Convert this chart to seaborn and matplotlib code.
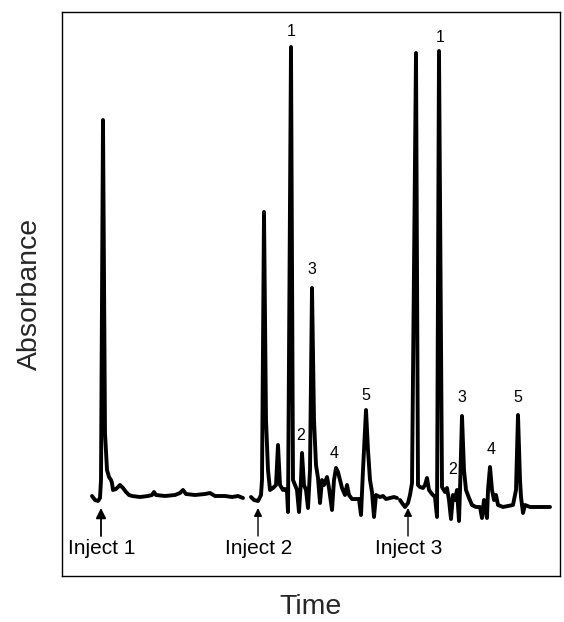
import matplotlib
matplotlib.use("Agg")
import matplotlib.pyplot as plt
import seaborn as sns
import pandas as pd

# ---- data (arbitrary time / absorbance units) ----
seg1_time = [30, 33, 36, 38, 39, 41, 43, 45, 47, 49, 50, 51, 54, 56, 58, 61, 64, 67, 70,
             78, 86, 90, 92, 94, 103, 113, 118, 121, 124, 133, 143, 148, 153, 163, 170, 176, 181]
seg1_abs = [80, 76, 75, 78, 96, 456, 143, 106, 99, 96, 93, 86, 87, 89, 91, 88, 84, 81, 80,
            79, 80, 81, 84, 81, 80, 81, 83, 86, 82, 81, 82, 83, 80, 80, 79, 80, 78]

seg2_time = [189, 192, 196, 199, 200, 202, 204, 206, 208, 211, 214, 216, 218, 221, 223, 225,
             226, 229, 231, 233, 235, 237, 239, 240, 242, 244, 246, 248, 250, 252, 254, 256,
             258, 260, 262, 265, 267, 270, 272, 274, 276, 278, 280, 283, 285, 287, 290, 294,
             297, 299, 301, 304, 306, 308, 310, 312, 314, 318, 321, 324, 328, 332, 335]
seg2_abs = [79, 76, 75, 81, 96, 364, 156, 106, 86, 88, 91, 131, 91, 86, 87, 84,
            64, 529, 96, 91, 86, 64, 96, 123, 91, 86, 68, 106, 288, 156, 111, 98,
            73, 96, 91, 99, 88, 66, 96, 108, 104, 96, 88, 81, 91, 81, 77, 77,
            77, 61, 106, 166, 126, 96, 84, 59, 81, 79, 80, 77, 78, 79, 78]

seg3_time = [338, 340, 343, 346, 348, 350, 354, 356, 358, 361, 363, 365, 367, 370, 373, 375,
             377, 380, 383, 385, 387, 389, 391, 393, 395, 397, 398, 400, 402, 404, 407, 410,
             414, 418, 420, 422, 425, 426, 428, 430, 432, 434, 436, 441, 446, 451, 454, 456,
             458, 459, 461, 463, 468, 478, 488]
seg3_abs = [76, 73, 69, 73, 81, 93, 523, 91, 89, 88, 91, 98, 86, 82, 79, 59,
            525, 89, 84, 88, 76, 57, 81, 76, 86, 55, 86, 160, 106, 86, 78, 71,
            69, 69, 58, 76, 58, 86, 109, 86, 76, 81, 71, 69, 70, 71, 86, 161,
            96, 79, 63, 71, 69, 69, 69]

peak_labels = ["1", "2", "3", "4", "5", "1", "2", "3", "4", "5"]
peak_label_time = [229, 239, 250, 272, 304, 378, 391, 400, 429, 456]
peak_label_abs = [544, 141, 307, 123, 181, 538, 107, 178, 127, 179]

inject_labels = ["Inject 1", "Inject 2", "Inject 3"]
inject_time = [39, 196, 346]

# ---- assemble ----
frames = []
for name, t, a in [("run1", seg1_time, seg1_abs), ("run2", seg2_time, seg2_abs),
                   ("run3", seg3_time, seg3_abs)]:
    frames.append(pd.DataFrame({"time": t, "absorbance": a, "segment": name}))
df = pd.concat(frames, ignore_index=True)

sns.set_style("white")
plt.rcParams["font.family"] = ["Liberation Sans", "DejaVu Sans"]

fig = plt.figure(figsize=(5.64, 6.22), dpi=100)
ax = fig.add_axes([62 / 564, 1 - 576 / 622, 498 / 564, 564 / 622])

sns.lineplot(data=df, x="time", y="absorbance", units="segment", estimator=None,
             sort=False, color="black", lw=2.8, ax=ax, legend=False)

ax.set_xlim(0, 498)
ax.set_ylim(0, 564)
ax.set_xticks([])
ax.set_yticks([])
for sp in ax.spines.values():
    sp.set_visible(True)
    sp.set_color("black")
    sp.set_linewidth(1.0)

for lab, t, a in zip(peak_labels, peak_label_time, peak_label_abs):
    ax.text(t, a, lab, ha="center", va="center", fontsize=11.5, color="black")

for i, (lab, t) in enumerate(zip(inject_labels, inject_time)):
    ax.annotate("", xy=(t, 68), xytext=(t, 40),
                arrowprops=dict(arrowstyle="-|>", color="black",
                                lw=1.3 if i == 0 else 1.0,
                                mutation_scale=15 if i == 0 else 12,
                                shrinkA=0, shrinkB=0))
    ax.text(t + 1, 28, lab, ha="center", va="center", fontsize=15, color="black")

ax.set_xlabel("Time", fontsize=20.5)
ax.set_ylabel("Absorbance", fontsize=20.5)
ax.xaxis.set_label_coords(0.5, -0.055)
ax.xaxis.label.set_va("center")
ax.yaxis.set_label_coords(-0.064, 0.5)
ax.yaxis.label.set_va("center")

fig.savefig("out.png", dpi=100)
